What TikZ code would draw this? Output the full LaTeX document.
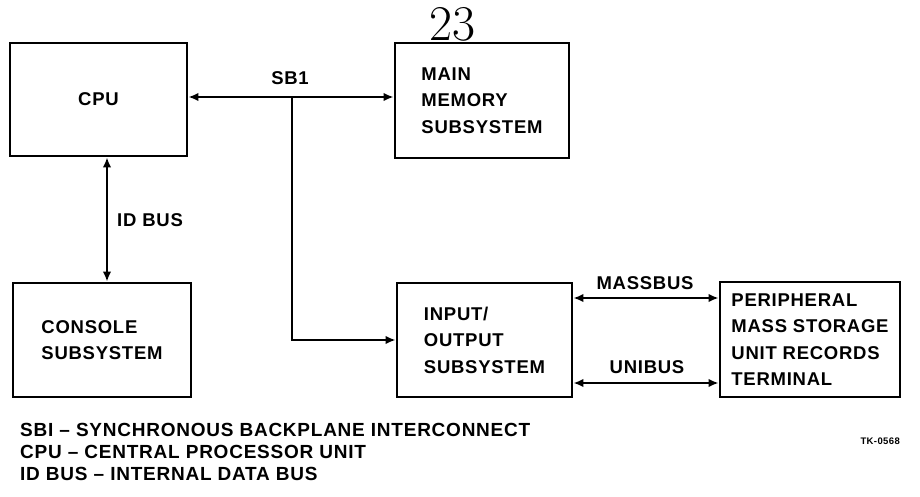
\documentclass[tikz,border=0pt]{standalone}
\usepackage{fontspec}
\setsansfont{Liberation Sans}[LetterSpace=4]
\newfontfamily\labfont{Liberation Sans}[LetterSpace=4]
\usetikzlibrary{arrows.meta}
\tikzset{
  x=1pt, y=-1pt,
  blk/.style={draw, line width=2.8pt, rectangle, inner sep=0pt, align=left,
    font=\labfont\bfseries\fontsize{18.5}{26.5}\selectfont},
  bus/.style={line width=2pt, {Latex[length=10pt,width=8.5pt]}-{Latex[length=10pt,width=8.5pt]}},
  bus1/.style={line width=2pt, -{Latex[length=10pt,width=8.5pt]}},
  lab/.style={font=\labfont\bfseries\fontsize{18.5}{22}\selectfont, inner sep=0pt},
  leg/.style={font=\labfont\bfseries\fontsize{19}{22}\selectfont, inner sep=0pt},
}
\begin{document}
\begin{tikzpicture}
\useasboundingbox (0,0) rectangle (920,496);
\fill[white] (0,0) rectangle (920,496);
% boxes
\node[blk, minimum width=177pt, minimum height=113pt] (cpu) at (98.5,99.5) {CPU};
\node[blk, minimum width=174pt, minimum height=115pt] (mem) at (482,100.5) {MAIN\\MEMORY\\SUBSYSTEM};
\node[blk, minimum width=178pt, minimum height=114pt] (con) at (102,340) {CONSOLE\\SUBSYSTEM};
\node[blk, minimum width=175pt, minimum height=114pt] (io) at (484.5,340) {INPUT/\\OUTPUT\\SUBSYSTEM};
\node[blk, minimum width=180pt, minimum height=115pt] (per) at (810,339.5) {PERIPHERAL\\MASS STORAGE\\UNIT RECORDS\\TERMINAL};
% page number
\node[font=\fontsize{50}{50}\selectfont, inner sep=0pt] (pg) at (452,24) {23};
% SBI
\draw[bus] (cpu.east |- 0,97) coordinate (sbl) -- (mem.west |- 0,97) coordinate (sbr);
\coordinate (br) at (292,97);
\draw[bus1] (br) |- (io.west);
\node[lab] (sbilab) at (290,78) {SB1};
% ID bus
\draw[bus] (cpu.south -| 107,0) -- (con.north -| 107,0);
\node[lab, anchor=west] (idlab) at (117,220) {ID BUS};
% massbus / unibus
\coordinate (mb) at (0,298);
\coordinate (ub) at (0,383);
\draw[bus] (io.east |- mb) -- (per.west |- mb);
\draw[bus] (io.east |- ub) -- (per.west |- ub);
\node[lab] (mblab) at (645,283) {MASSBUS};
\node[lab] (ublab) at (647,367) {UNIBUS};
% legend
\node[leg, anchor=base west] (l1) at (20,436) {SBI \textendash{} SYNCHRONOUS BACKPLANE INTERCONNECT};
\node[leg, anchor=base west] (l2) at (20,458) {CPU \textendash{} CENTRAL PROCESSOR UNIT};
\node[leg, anchor=base west] (l3) at (20,480) {ID BUS \textendash{} INTERNAL DATA BUS};
\node[font=\sffamily\bfseries\fontsize{9.5}{10}\selectfont, inner sep=0pt, anchor=east] (tk) at (900,441) {TK-0568};
\end{tikzpicture}
\end{document}
